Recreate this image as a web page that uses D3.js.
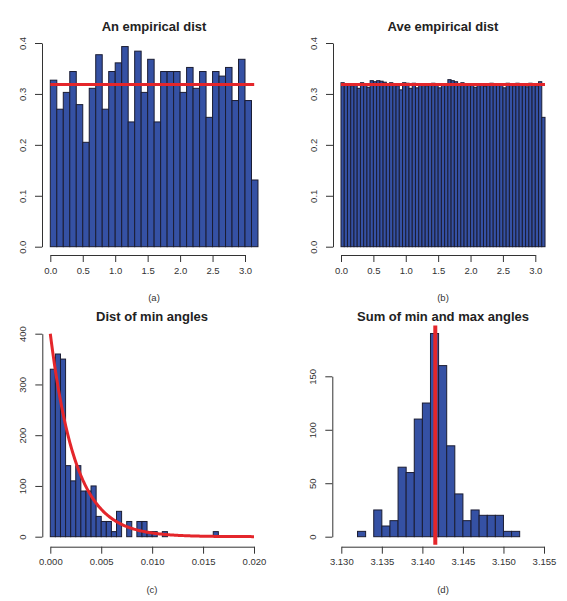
<!DOCTYPE html>
<html>
<head>
<meta charset="utf-8">
<script src="https://cdn.jsdelivr.net/npm/d3@7"></script>
<style>
  html, body { margin: 0; padding: 0; background: #fff; }
  svg text { font-family: "Liberation Sans", Arial, Helvetica, sans-serif; }
</style>
</head>
<body>
<svg id="chart" width="567" height="601"></svg>
<script>
// ---------- DATA ----------
// (a) An empirical dist: density per bin of width 0.1, from 0 to 3.2
const aBinWidth = 0.1;
const aDensity = [0.327, 0.270, 0.303, 0.344, 0.279, 0.205, 0.311, 0.377, 0.270, 0.344,
                  0.361, 0.393, 0.245, 0.384, 0.303, 0.368, 0.245, 0.344, 0.344, 0.344,
                  0.303, 0.352, 0.311, 0.344, 0.254, 0.344, 0.335, 0.352, 0.287, 0.368,
                  0.287, 0.131];
// (b) Ave empirical dist: density per bin of width 0.05, from 0 to 3.15
const bBinWidth = 0.05;
const bDensity = [0.322, 0.318, 0.317, 0.316, 0.318, 0.311, 0.322, 0.319, 0.313, 0.326,
                  0.324, 0.326, 0.325, 0.323, 0.319, 0.322, 0.318, 0.316, 0.308, 0.322,
                  0.321, 0.311, 0.321, 0.312, 0.318, 0.317, 0.316, 0.319, 0.321, 0.320,
                  0.312, 0.318, 0.319, 0.328, 0.326, 0.324, 0.320, 0.322, 0.317, 0.318,
                  0.320, 0.313, 0.319, 0.320, 0.315, 0.318, 0.321, 0.317, 0.320, 0.318,
                  0.312, 0.321, 0.320, 0.316, 0.321, 0.319, 0.317, 0.314, 0.321, 0.318,
                  0.316, 0.324, 0.254];
// (c) Dist of min angles: density per bin of width 0.0005, from 0 to 0.0165
const cBinWidth = 0.0005;
const cDensity = [330, 360, 350, 140, 110, 140, 90, 90, 100, 40,
                  30, 30, 10, 50, 0, 30, 0, 30, 30, 10,
                  10, 0, 10, 0, 0, 0, 0, 0, 0, 0,
                  0, 0, 10];
const cRate = 400;   // exponential density rate of the red curve
// (d) Sum of min and max angles: density per bin of width 0.001, from 3.132 to 3.152
const dBinStart = 3.132;
const dBinWidth = 0.001;
const dDensity = [5, 0, 25, 10, 15, 65, 60, 110, 125, 190,
                  160, 85, 40, 15, 25, 20, 20, 20, 5, 5];

// ticks
const abXTicks = [0, 0.5, 1.0, 1.5, 2.0, 2.5, 3.0];
const abYTicks = [0, 0.1, 0.2, 0.3, 0.4];
const cXTicks = [0, 0.005, 0.010, 0.015, 0.020];
const cYTicks = [0, 100, 200, 300, 400];
const dXTicks = [3.130, 3.135, 3.140, 3.145, 3.150, 3.155];
const dYTicks = [0, 50, 100, 150];

const titles = ["An empirical dist", "Ave empirical dist", "Dist of min angles", "Sum of min and max angles"];
const captions = ["(a)", "(b)", "(c)", "(d)"];

// ---------- STYLE ----------
const FILL = "#3551a4";
const EDGE = "#1b1d33";
const RED = "#e4262b";
const AXIS = "#333";
const TXT = "#333";

const svg = d3.select("#chart");

function panel(cfg) {
  const g = svg.append("g");
  const x = d3.scaleLinear().domain(cfg.xDom).range(cfg.xRange);
  const y = d3.scaleLinear().domain(cfg.yDom).range(cfg.yRange);

  // bars
  g.selectAll("rect.bar").data(cfg.bins).enter().append("rect")
    .attr("class", "bar")
    .attr("x", d => x(d.x0))
    .attr("width", d => x(d.x1) - x(d.x0))
    .attr("y", d => y(d.v))
    .attr("height", d => y(0) - y(d.v))
    .attr("fill", FILL)
    .attr("stroke", EDGE)
    .attr("stroke-width", 1);

  // overlay
  if (cfg.overlay) cfg.overlay(g, x, y);

  // x axis
  const xa = d3.axisBottom(x).tickValues(cfg.xTicks).tickSize(7).tickPadding(5)
    .tickFormat(cfg.xFmt).tickSizeOuter(0);
  const gx = g.append("g").attr("transform", `translate(0,${cfg.xAxisY})`).call(xa);
  // y axis
  const ya = d3.axisLeft(y).tickValues(cfg.yTicks).tickSize(7).tickPadding(6)
    .tickFormat(cfg.yFmt).tickSizeOuter(0);
  const gy = g.append("g").attr("transform", `translate(${cfg.yAxisX},0)`).call(ya);

  [gx, gy].forEach(ax => {
    ax.select(".domain").attr("stroke", AXIS).attr("stroke-width", 1);
    ax.selectAll(".tick line").attr("stroke", AXIS).attr("stroke-width", 1);
    ax.selectAll(".tick text").attr("fill", TXT).attr("font-size", "9.5px");
  });
  gx.selectAll(".tick text").attr("dy", "0.71em");
  // rotate y labels (R style: parallel to axis)
  gy.selectAll(".tick text")
    .attr("text-anchor", "middle")
    .attr("dy", "0")
    .attr("x", 0)
    .attr("transform", function () {
      return `translate(${-cfg.yLabelOff},0) rotate(-90)`;
    });

  // title
  g.append("text").attr("x", cfg.titleX).attr("y", cfg.titleY)
    .attr("text-anchor", "middle").attr("font-weight", "bold")
    .attr("font-size", "13px").attr("fill", "#222").text(cfg.title);
  // caption
  g.append("text").attr("x", cfg.titleX).attr("y", cfg.capY)
    .attr("text-anchor", "middle").attr("font-size", "9.5px")
    .attr("fill", TXT).text(cfg.caption);
}

// (a)
panel({
  xDom: [0, 3], xRange: [50.3, 245], yDom: [0, 0.4], yRange: [246.7, 43],
  bins: aDensity.map((v, i) => ({ x0: i * aBinWidth, x1: (i + 1) * aBinWidth, v })),
  xTicks: abXTicks, yTicks: abYTicks, xFmt: d3.format(".1f"), yFmt: d3.format(".1f"),
  xAxisY: 255, yAxisX: 42, yLabelOff: 16,
  title: titles[0], caption: captions[0], titleX: 154, titleY: 31, capY: 301,
  overlay: (g, x, y) => {
    g.append("line").attr("x1", x(0)).attr("x2", x(Math.PI))
      .attr("y1", y(1 / Math.PI)).attr("y2", y(1 / Math.PI))
      .attr("stroke", RED).attr("stroke-width", 3);
  }
});

// (b)
panel({
  xDom: [0, 3], xRange: [341, 535.3], yDom: [0, 0.4], yRange: [246.7, 43],
  bins: bDensity.map((v, i) => ({ x0: i * bBinWidth, x1: (i + 1) * bBinWidth, v })),
  xTicks: abXTicks, yTicks: abYTicks, xFmt: d3.format(".1f"), yFmt: d3.format(".1f"),
  xAxisY: 255, yAxisX: 333, yLabelOff: 16,
  title: titles[1], caption: captions[1], titleX: 443, titleY: 31, capY: 301,
  overlay: (g, x, y) => {
    g.append("line").attr("x1", x(0)).attr("x2", x(3.15))
      .attr("y1", y(1 / Math.PI)).attr("y2", y(1 / Math.PI))
      .attr("stroke", RED).attr("stroke-width", 3);
  }
});

// (c)
panel({
  xDom: [0, 0.02], xRange: [50.3, 254], yDom: [0, 400], yRange: [536.7, 333.7],
  bins: cDensity.map((v, i) => ({ x0: i * cBinWidth, x1: (i + 1) * cBinWidth, v })),
  xTicks: cXTicks, yTicks: cYTicks, xFmt: d3.format(".3f"), yFmt: d3.format("d"),
  xAxisY: 546.7, yAxisX: 42.3, yLabelOff: 16,
  title: titles[2], caption: captions[2], titleX: 152, titleY: 320.5, capY: 592.5,
  overlay: (g, x, y) => {
    const pts = d3.range(0, 0.02 + 1e-9, 0.0001).map(t => [t, cRate * Math.exp(-cRate * t)]);
    g.append("path").datum(pts)
      .attr("d", d3.line().x(d => x(d[0])).y(d => y(d[1])))
      .attr("fill", "none").attr("stroke", RED).attr("stroke-width", 3);
  }
});

// (d)
panel({
  xDom: [3.13, 3.155], xRange: [341.3, 544], yDom: [0, 150], yRange: [536.7, 376.3],
  bins: dDensity.map((v, i) => ({ x0: dBinStart + i * dBinWidth, x1: dBinStart + (i + 1) * dBinWidth, v })),
  xTicks: dXTicks, yTicks: dYTicks, xFmt: d3.format(".3f"), yFmt: d3.format("d"),
  xAxisY: 546.7, yAxisX: 332.3, yLabelOff: 16,
  title: titles[3], caption: captions[3], titleX: 443, titleY: 320.5, capY: 592.5,
  overlay: (g, x, y) => {
    const top = d3.max(dDensity);
    g.append("line").attr("x1", x(Math.PI)).attr("x2", x(Math.PI))
      .attr("y1", y(-0.04 * top)).attr("y2", y(1.04 * top))
      .attr("stroke", RED).attr("stroke-width", 4);
  }
});
</script>
</body>
</html>
